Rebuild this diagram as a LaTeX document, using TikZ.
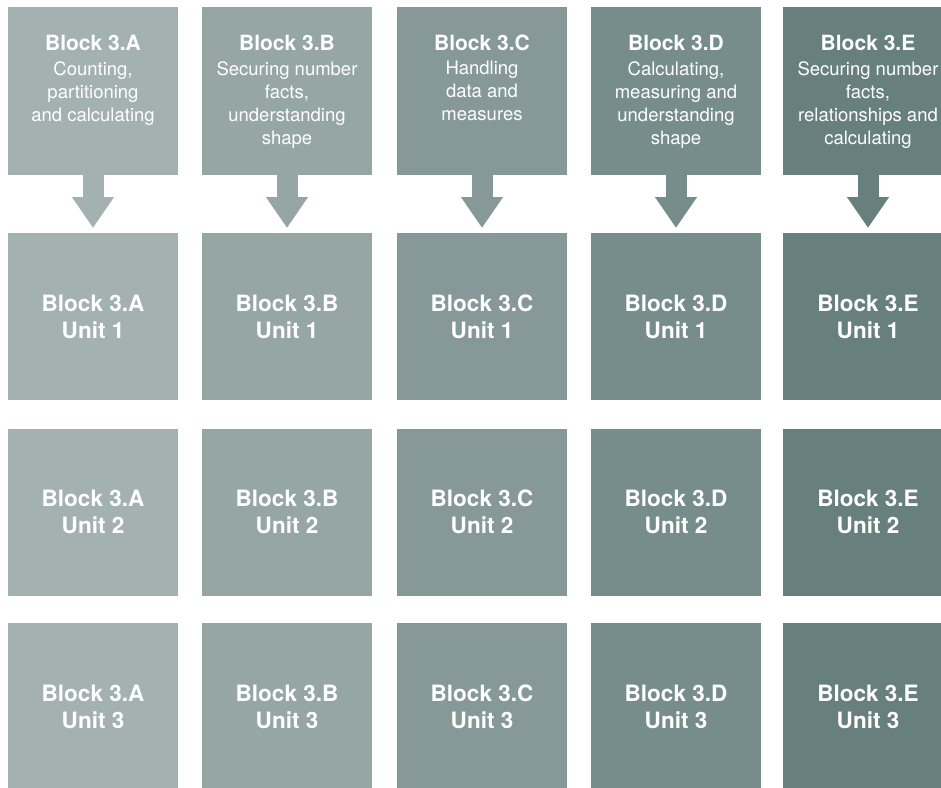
\documentclass[tikz,border=0pt]{standalone}
\usepackage{fontspec}
\setmainfont{TeX Gyre Heros}
\usetikzlibrary{arrows.meta}

\definecolor{colA}{RGB}{163,178,177}
\definecolor{colB}{RGB}{149,166,165}
\definecolor{colC}{RGB}{134,153,152}
\definecolor{colD}{RGB}{118,141,140}
\definecolor{colE}{RGB}{103,128,126}

\tikzset{every picture/.style={line width=0.75pt}}
\tikzset{
	headbox/.style={rectangle, inner sep=0pt, outer sep=0pt, minimum width=170pt, minimum height=168pt},
	unitbox/.style={rectangle, inner sep=0pt, outer sep=0pt, minimum width=170pt, minimum height=167pt, text=white, align=center, font=\bfseries\fontsize{22.5}{27}\selectfont},
	headtitle/.style={text=white, inner sep=0pt, anchor=base, font=\bfseries\fontsize{21}{26}\selectfont},
	headtext/.style={text=white, inner sep=0pt, anchor=north, align=center, font=\fontsize{18.5}{23}\selectfont},
	blockarrow/.style={line width=21pt, -{Triangle[width=40pt,length=31pt]}, shorten >=5pt}
}

\begin{document}
\begin{tikzpicture}[x=1pt,y=1pt,yscale=-1,xscale=1]
	\useasboundingbox (0,0) rectangle (941,787);
	\clip (0,0) rectangle (941,787);

	%Shape: Header boxes
	\node [headbox, fill=colA] (hdA) at (93,91) {};
	\node [headbox, fill=colB] (hdB) at (287,91) {};
	\node [headbox, fill=colC] (hdC) at (482,91) {};
	\node [headbox, fill=colD] (hdD) at (676,91) {};
	\node [headbox, fill=colE] (hdE) at (868,91) {};

	% Text Node
	\node [headtitle] (ttA) at (93,50) {Block 3.A};
	\node [headtext] (txA) at (93,61) {Counting,\\partitioning\\and calculating};
	% Text Node
	\node [headtitle] (ttB) at (287,50) {Block 3.B};
	\node [headtext] (txB) at (287,61) {Securing number\\facts,\\understanding\\shape};
	% Text Node
	\node [headtitle] (ttC) at (482,50) {Block 3.C};
	\node [headtext] (txC) at (482,61) {Handling\\data and\\measures};
	% Text Node
	\node [headtitle] (ttD) at (676,50) {Block 3.D};
	\node [headtext] (txD) at (676,61) {Calculating,\\measuring and\\understanding\\shape};
	% Text Node
	\node [headtitle] (ttE) at (868,50) {Block 3.E};
	\node [headtext] (txE) at (868,61) {Securing number\\facts,\\relationships and\\calculating};

	%Shape: Unit 1 row
	\node [unitbox, fill=colA] (uA1) at (93,316.5) {Block 3.A\\Unit 1};
	\node [unitbox, fill=colB] (uB1) at (287,316.5) {Block 3.B\\Unit 1};
	\node [unitbox, fill=colC] (uC1) at (482,316.5) {Block 3.C\\Unit 1};
	\node [unitbox, fill=colD] (uD1) at (676,316.5) {Block 3.D\\Unit 1};
	\node [unitbox, fill=colE] (uE1) at (868,316.5) {Block 3.E\\Unit 1};

	%Shape: Unit 2 row
	\node [unitbox, fill=colA] (uA2) at (93,512) {Block 3.A\\Unit 2};
	\node [unitbox, fill=colB] (uB2) at (287,512) {Block 3.B\\Unit 2};
	\node [unitbox, fill=colC] (uC2) at (482,512) {Block 3.C\\Unit 2};
	\node [unitbox, fill=colD] (uD2) at (676,512) {Block 3.D\\Unit 2};
	\node [unitbox, fill=colE] (uE2) at (868,512) {Block 3.E\\Unit 2};

	%Shape: Unit 3 row
	\node [unitbox, fill=colA] (uA3) at (93,706.5) {Block 3.A\\Unit 3};
	\node [unitbox, fill=colB] (uB3) at (287,706.5) {Block 3.B\\Unit 3};
	\node [unitbox, fill=colC] (uC3) at (482,706.5) {Block 3.C\\Unit 3};
	\node [unitbox, fill=colD] (uD3) at (676,706.5) {Block 3.D\\Unit 3};
	\node [unitbox, fill=colE] (uE3) at (868,706.5) {Block 3.E\\Unit 3};

	%Straight Lines: header to unit 1
	\draw [blockarrow, colA] (hdA) -- (uA1);
	\draw [blockarrow, colB] (hdB) -- (uB1);
	\draw [blockarrow, colC] (hdC) -- (uC1);
	\draw [blockarrow, colD] (hdD) -- (uD1);
	\draw [blockarrow, colE] (hdE) -- (uE1);

\end{tikzpicture}
\end{document}
